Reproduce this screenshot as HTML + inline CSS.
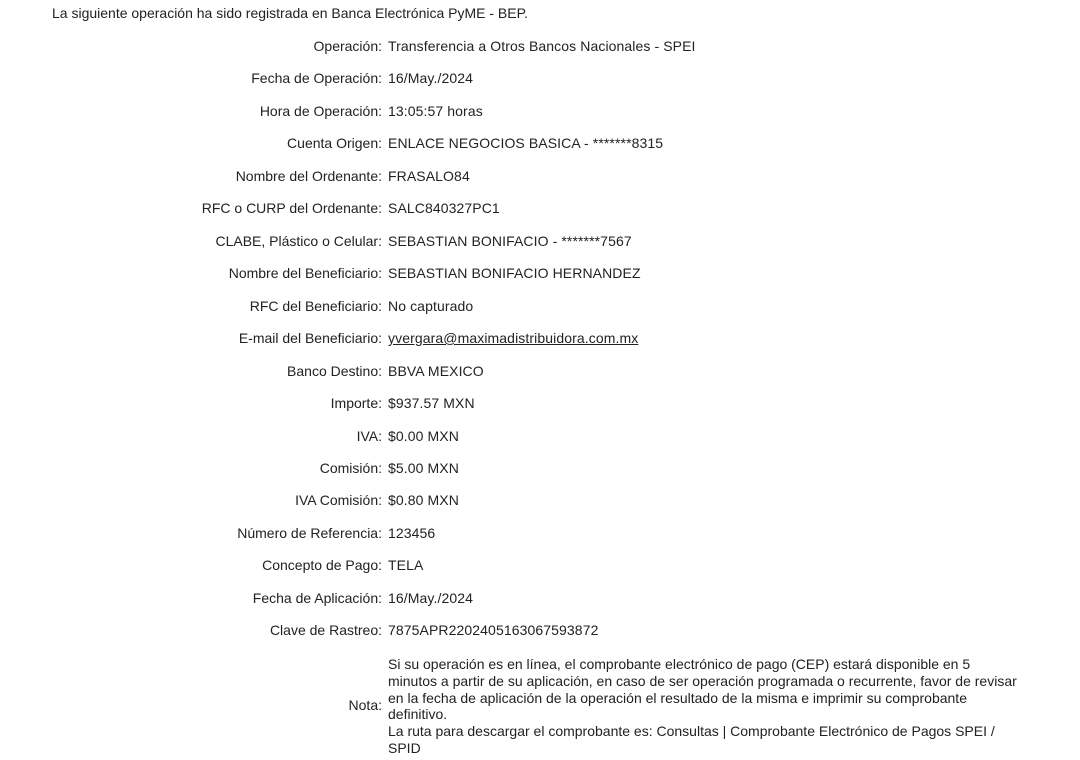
<!DOCTYPE html>
<html><head><meta charset="utf-8"><style>
body{margin:0;width:1080px;height:760px;background:#fff;font-family:"Liberation Sans",sans-serif;font-size:14px;color:#222;position:relative;overflow:hidden}
.h{position:absolute;left:52px;top:5px;white-space:nowrap}
.l{position:absolute;right:698px;white-space:nowrap;text-align:right}
.v{position:absolute;left:388px;white-space:nowrap;letter-spacing:0.1px}
.n{position:absolute;left:388px;top:656px;width:680px;line-height:16.8px;white-space:nowrap}
a{color:#222;text-decoration:underline}
</style></head><body>
<div class="h">La siguiente operación ha sido registrada en Banca Electrónica PyME - BEP.</div>
<div class="l" style="top:38px">Operación:</div><div class="v" style="top:38px">Transferencia a Otros Bancos Nacionales - SPEI</div>
<div class="l" style="top:70px">Fecha de Operación:</div><div class="v" style="top:70px">16/May./2024</div>
<div class="l" style="top:103px">Hora de Operación:</div><div class="v" style="top:103px">13:05:57 horas</div>
<div class="l" style="top:135px">Cuenta Origen:</div><div class="v" style="top:135px">ENLACE NEGOCIOS BASICA - *******8315</div>
<div class="l" style="top:168px">Nombre del Ordenante:</div><div class="v" style="top:168px">FRASALO84</div>
<div class="l" style="top:200px">RFC o CURP del Ordenante:</div><div class="v" style="top:200px">SALC840327PC1</div>
<div class="l" style="top:233px">CLABE, Plástico o Celular:</div><div class="v" style="top:233px">SEBASTIAN BONIFACIO - *******7567</div>
<div class="l" style="top:265px">Nombre del Beneficiario:</div><div class="v" style="top:265px">SEBASTIAN BONIFACIO HERNANDEZ</div>
<div class="l" style="top:298px">RFC del Beneficiario:</div><div class="v" style="top:298px">No capturado</div>
<div class="l" style="top:330px">E-mail del Beneficiario:</div><div class="v" style="top:330px"><a>yvergara@maximadistribuidora.com.mx</a></div>
<div class="l" style="top:363px">Banco Destino:</div><div class="v" style="top:363px">BBVA MEXICO</div>
<div class="l" style="top:395px">Importe:</div><div class="v" style="top:395px">$937.57 MXN</div>
<div class="l" style="top:428px">IVA:</div><div class="v" style="top:428px">$0.00 MXN</div>
<div class="l" style="top:460px">Comisión:</div><div class="v" style="top:460px">$5.00 MXN</div>
<div class="l" style="top:492px">IVA Comisión:</div><div class="v" style="top:492px">$0.80 MXN</div>
<div class="l" style="top:525px">Número de Referencia:</div><div class="v" style="top:525px">123456</div>
<div class="l" style="top:557px">Concepto de Pago:</div><div class="v" style="top:557px">TELA</div>
<div class="l" style="top:590px">Fecha de Aplicación:</div><div class="v" style="top:590px">16/May./2024</div>
<div class="l" style="top:622px">Clave de Rastreo:</div><div class="v" style="top:622px">7875APR2202405163067593872</div>
<div class="l" style="top:697px">Nota:</div>
<div class="n">Si su operación es en línea, el comprobante electrónico de pago (CEP) estará disponible en 5<br>minutos a partir de su aplicación, en caso de ser operación programada o recurrente, favor de revisar<br>en la fecha de aplicación de la operación el resultado de la misma e imprimir su comprobante<br>definitivo.<br>La ruta para descargar el comprobante es: Consultas | Comprobante Electrónico de Pagos SPEI /<br>SPID</div>
</body></html>
